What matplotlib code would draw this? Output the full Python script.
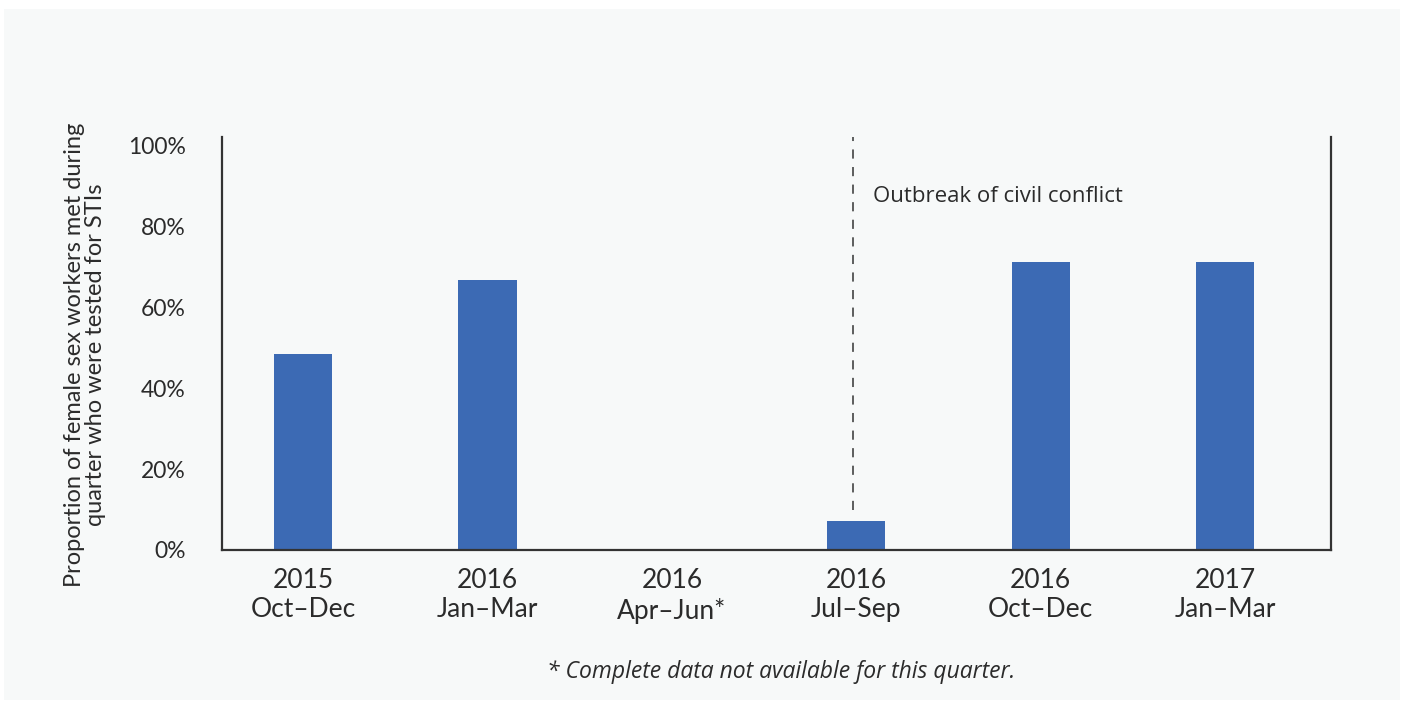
import matplotlib
matplotlib.use("Agg")
import matplotlib.pyplot as plt
from matplotlib.patches import Rectangle

categories = ["2015\nOct–Dec", "2016\nJan–Mar", "2016\nApr–Jun*", "2016\nJul–Sep", "2016\nOct–Dec", "2017\nJan–Mar"]
values = [48.6, 66.9, 0.0, 7.3, 71.3, 71.3]
yticks = [0, 20, 40, 60, 80, 100]
ytick_labels = ["0%", "20%", "40%", "60%", "80%", "100%"]
event_x = 2.984
event_label = "Outbreak of civil conflict"
ylabel = "Proportion of female sex workers met during\nquarter who were tested for STIs"
footnote = "* Complete data not available for this quarter."

bg = "#f7f9f9"
bar_color = "#3c6ab4"
text_color = "#2b2b2b"
W, H = 1405, 705
fig = plt.figure(figsize=(W / 100, H / 100), dpi=100)
fig.patch.set_facecolor("white")
fig.add_artist(Rectangle((4 / W, 1 - 700 / H), (1400 - 4) / W, (700 - 9) / H,
                         transform=fig.transFigure, facecolor=bg, edgecolor="none", zorder=0))

ax = fig.add_axes([222 / W, 1 - 550 / H, (1331 - 222) / W, (550 - 137) / H])
ax.set_facecolor(bg)
x = list(range(len(categories)))
ax.bar(x, values, width=0.315, color=bar_color, zorder=2)
ax.set_xlim(-0.44, len(categories) - 0.425)
ax.set_ylim(0, 102.2)
ax.set_yticks(yticks)
ax.set_yticklabels(ytick_labels, fontsize=16.5, color=text_color, family="Lato")
ax.set_xticks(x)
ax.set_xticklabels(categories, fontsize=19, color=text_color, family="Lato", linespacing=1.22)
ax.tick_params(axis="y", length=0, pad=26)
ax.tick_params(axis="x", length=0, pad=13)
for s in ["left", "right", "bottom"]:
    ax.spines[s].set_color("#333333")
    ax.spines[s].set_linewidth(1.6)
ax.spines["top"].set_visible(False)

ax.plot([event_x, event_x], [9.8, 102.2], linestyle=(0, (6, 5.5)), color="#333333", linewidth=1.1, zorder=3)
ax.text(event_x + 0.108, 87.5, event_label, fontsize=16, color=text_color, family="Open Sans", va="center", ha="left")

fig.text(85 / W, 1 - 355 / H, ylabel, rotation=90, fontsize=17, color=text_color, family="Lato",
         ha="center", va="center", linespacing=1.0)
fig.text(781 / W, 1 - 672 / H, footnote, fontsize=16.5, color=text_color, family="Open Sans",
         style="italic", ha="center", va="center")

fig.savefig("out.png", dpi=100, facecolor="white")
